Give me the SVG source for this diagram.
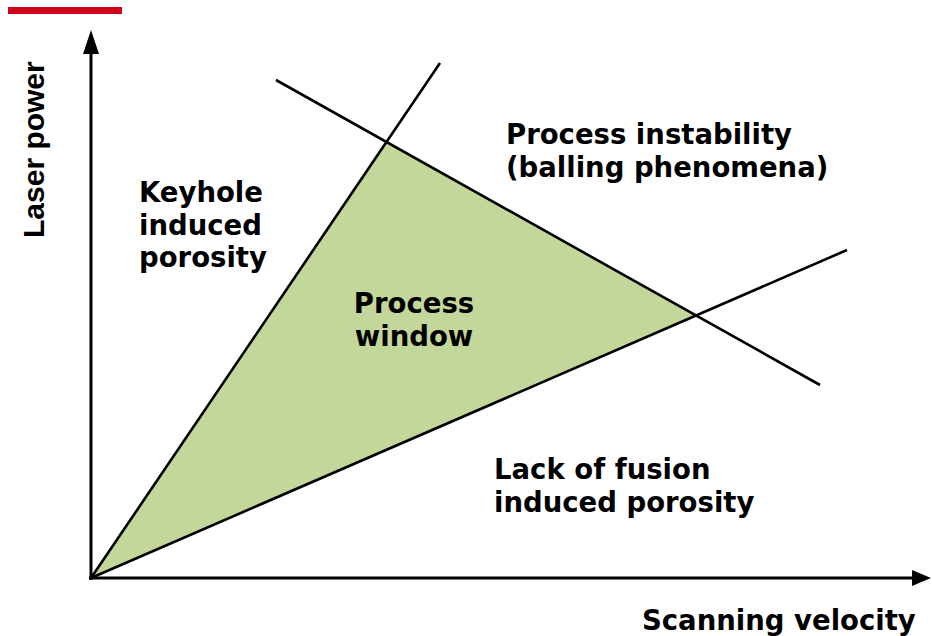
<svg xmlns="http://www.w3.org/2000/svg" width="932" height="636" viewBox="0 0 932 636">
<style>
.lbl{font-family:"DejaVu Sans",Verdana,sans-serif;font-weight:bold;font-size:27.5px;fill:#000}
.ax{stroke:#000;stroke-width:3;fill:none}
.bd{stroke:#000;stroke-width:2.6;fill:none}
</style>
<rect width="932" height="636" fill="#fff"/>
<rect x="8" y="7" width="114" height="7" fill="#d0021b"/>
<g id="process-window-area">
<polygon points="91,578 386,142 695,316" fill="#c4d79b"/>
</g>
<g id="connectors">
<line class="bd" x1="91" y1="578" x2="440" y2="63"/>
<line class="bd" x1="91" y1="578" x2="847" y2="250"/>
<line class="bd" x1="276" y1="80" x2="820" y2="385"/>
</g>
<g id="axes">
<line class="ax" x1="91" y1="580" x2="91" y2="52"/>
<polygon points="91,30 83,54 99,54" fill="#000"/>
<line class="ax" x1="89" y1="578" x2="912" y2="578"/>
<polygon points="931,578 912,570 912,586" fill="#000"/>
</g>
<g id="y-label"><text x="0" y="0" transform="translate(44,238) rotate(-90)" font-family="'Liberation Sans',Arial,sans-serif" font-weight="bold" font-size="30">Laser power</text></g>
<g id="x-label"><text class="lbl" x="642" y="630">Scanning velocity</text></g>
<g id="instability"><text class="lbl" x="506" y="144">Process instability</text><text class="lbl" x="506" y="176.5">(balling phenomena)</text></g>
<g id="keyhole"><text class="lbl" x="139" y="202">Keyhole</text><text class="lbl" x="139" y="234.5">induced</text><text class="lbl" x="139" y="267">porosity</text></g>
<g id="window"><text class="lbl" text-anchor="middle" x="414" y="313">Process</text><text class="lbl" text-anchor="middle" x="414" y="345.5">window</text></g>
<g id="lack-of-fusion"><text class="lbl" x="494" y="479">Lack of fusion</text><text class="lbl" x="494" y="511.5">induced porosity</text></g>
</svg>
